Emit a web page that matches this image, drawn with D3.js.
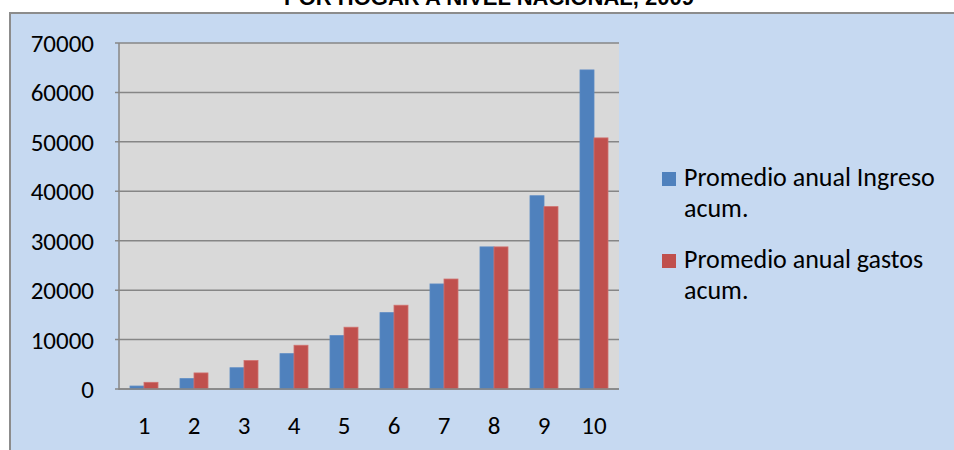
<!DOCTYPE html>
<html>
<style>
    body { margin: 0; background: #fff; }
    text { font-family: Carlito, Lato, "Open Sans", sans-serif; fill: #000; }
    .title { font-family: "Liberation Sans", Arial, sans-serif; font-weight: bold; font-size: 22px; text-anchor: middle; }
</style>
<body>
<svg id="viz" width="954" height="450"></svg>
<script src="https://cdnjs.cloudflare.com/ajax/libs/d3/7.8.5/d3.min.js"></script>
<script>
    var categories = ['1', '2', '3', '4', '5', '6', '7', '8', '9', '10'];
    var ingreso = [600, 2100, 4300, 7150, 10800, 15450, 21250, 28750, 39100, 64550];
    var gastos = [1350, 3250, 5750, 8850, 12500, 16950, 22250, 28750, 36900, 50800];
    var yTicks = [0, 10000, 20000, 30000, 40000, 50000, 60000, 70000];
    var seriesNames = ['Promedio anual Ingreso acum.', 'Promedio anual gastos acum.'];
    var seriesLines = [['Promedio anual Ingreso', 'acum.'], ['Promedio anual gastos', 'acum.']];
    var colors = ['#4F81BD', '#C0504D'];

    var svg = d3.select('#viz');

    // outer chart frame
    svg.append('rect')
        .attr('x', 10).attr('y', 13)
        .attr('width', 960).attr('height', 460)
        .attr('fill', '#C6D9F1')
        .attr('stroke', '#8c8c8c')
        .attr('stroke-width', 2);

    // title, cut off at the top
    svg.append('text')
        .attr('class', 'title')
        .attr('x', 489).attr('y', 5)
        .text('POR HOGAR A NIVEL NACIONAL, 2009');

    var plot = { left: 119, right: 619, top: 43, bottom: 389 };

    var x = d3.scaleBand()
        .domain(categories)
        .range([plot.left, plot.right])
        .paddingInner(0.44)
        .paddingOuter(0.22);

    var x1 = d3.scaleBand()
        .domain(d3.range(2))
        .range([0, x.bandwidth()]);

    var y = d3.scaleLinear()
        .domain([0, 70000])
        .range([plot.bottom, plot.top]);

    svg.append('rect')
        .attr('x', plot.left).attr('y', plot.top)
        .attr('width', plot.right - plot.left)
        .attr('height', plot.bottom - plot.top)
        .attr('fill', '#D9D9D9');

    // gridlines
    svg.append('g')
        .selectAll('line')
        .data(yTicks)
        .join('line')
        .attr('x1', plot.left - 4).attr('x2', plot.right)
        .attr('y1', d => y(d)).attr('y2', d => y(d))
        .attr('stroke', '#868686')
        .attr('stroke-width', 1.5);

    // left axis line
    svg.append('line')
        .attr('x1', plot.left).attr('x2', plot.left)
        .attr('y1', plot.top).attr('y2', plot.bottom + 1)
        .attr('stroke', '#868686')
        .attr('stroke-width', 1.5);

    // y labels
    svg.append('g')
        .selectAll('text')
        .data(yTicks)
        .join('text')
        .attr('x', 94)
        .attr('y', d => y(d))
        .attr('dy', '0.36em')
        .attr('text-anchor', 'end')
        .style('font-size', '25px')
        .text(d => d);

    // x labels
    svg.append('g')
        .selectAll('text')
        .data(categories)
        .join('text')
        .attr('x', d => x(d) + x.bandwidth() / 2)
        .attr('y', 434)
        .attr('text-anchor', 'middle')
        .style('font-size', '25px')
        .text(d => d);

    // bars
    var groups = svg.append('g')
        .selectAll('g')
        .data(categories)
        .join('g')
        .attr('transform', d => 'translate(' + x(d) + ',0)');

    groups.selectAll('rect')
        .data((d, i) => [ingreso[i], gastos[i]])
        .join('rect')
        .attr('x', (d, j) => x1(j))
        .attr('y', d => y(d))
        .attr('width', x1.bandwidth())
        .attr('height', d => y(0) - y(d))
        .attr('fill', (d, j) => colors[j])
        .attr('stroke', (d, j) => j === 0 ? '#5B8AC4' : '#D0716E')
        .attr('stroke-width', 0.8);

    // redraw the baseline over the bars
    svg.append('line')
        .attr('x1', plot.left).attr('x2', plot.right)
        .attr('y1', y(0)).attr('y2', y(0))
        .attr('stroke', '#868686')
        .attr('stroke-width', 1.5);

    // legend
    var legend = svg.append('g')
        .selectAll('g')
        .data(seriesNames)
        .join('g')
        .attr('transform', (d, i) => 'translate(662,' + (172 + i * 82) + ')');

    legend.append('rect')
        .attr('width', 14).attr('height', 14)
        .attr('fill', (d, i) => colors[i]);

    legend.append('text')
        .style('font-size', '26px')
        .selectAll('tspan')
        .data((d, i) => seriesLines[i])
        .join('tspan')
        .attr('x', 22)
        .attr('y', (d, k) => 14 + k * 31)
        .text(d => d);
</script>
</body>
</html>
